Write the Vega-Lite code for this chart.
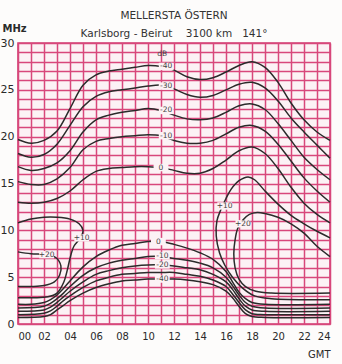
{
  "$schema": "https://vega.github.io/schema/vega-lite/v6.json",
  "autosize": {"type": "none"},
  "width": 312,
  "height": 281,
  "padding": {"left": 18, "top": 43, "right": 12, "bottom": 40},
  "background": "#fdfcfb",
  "title": {
    "text": "MELLERSTA ÖSTERN",
    "subtitle": "Karlsborg - Beirut\u00a0\u00a0\u00a0 3100 km\u00a0\u00a0 141°",
    "anchor": "middle",
    "frame": "group",
    "fontSize": 10.5,
    "fontWeight": "normal",
    "font": "DejaVu Sans",
    "color": "#333",
    "subtitleFontSize": 10.5,
    "subtitleFont": "DejaVu Sans",
    "subtitleColor": "#333",
    "subtitlePadding": 7,
    "offset": -16
  },
  "config": {
    "view": {"stroke": "#d23c72", "strokeWidth": 1.6, "fill": "#fcf2f5"},
    "axis": {"labelFont": "DejaVu Sans", "titleFont": "DejaVu Sans", "labelColor": "#2a2a2a", "titleColor": "#2a2a2a"}
  },
  "datasets": {
    "curves": [
      {"c":"u40","o":0,"h":0,"f":19.7},{"c":"u40","o":1,"h":1,"f":19.3},{"c":"u40","o":2,"h":2,"f":19.6},{"c":"u40","o":3,"h":3,"f":20.6},{"c":"u40","o":4,"h":4,"f":23.0},{"c":"u40","o":5,"h":5,"f":25.5},{"c":"u40","o":6,"h":6,"f":26.6},{"c":"u40","o":7,"h":7,"f":27.0},{"c":"u40","o":8,"h":8,"f":27.2},{"c":"u40","o":9,"h":9,"f":27.4},{"c":"u40","o":10,"h":10,"f":27.6},{"c":"u40","o":11,"h":11,"f":27.5},{"c":"u40","o":12,"h":12,"f":27.1},{"c":"u40","o":13,"h":13,"f":26.4},{"c":"u40","o":14,"h":14,"f":26.1},{"c":"u40","o":15,"h":15,"f":26.3},{"c":"u40","o":16,"h":16,"f":26.9},{"c":"u40","o":17,"h":17,"f":27.6},{"c":"u40","o":18,"h":18,"f":28.0},{"c":"u40","o":19,"h":19,"f":27.4},{"c":"u40","o":20,"h":20,"f":25.8},{"c":"u40","o":21,"h":21,"f":23.6},{"c":"u40","o":22,"h":22,"f":21.8},{"c":"u40","o":23,"h":23,"f":20.5},{"c":"u40","o":24,"h":24,"f":19.6},

      {"c":"u30","o":0,"h":0,"f":18.2},{"c":"u30","o":1,"h":1,"f":17.8},{"c":"u30","o":2,"h":2,"f":18.1},{"c":"u30","o":3,"h":3,"f":19.2},{"c":"u30","o":4,"h":4,"f":21.2},{"c":"u30","o":5,"h":5,"f":23.2},{"c":"u30","o":6,"h":6,"f":24.3},{"c":"u30","o":7,"h":7,"f":24.8},{"c":"u30","o":8,"h":8,"f":25.0},{"c":"u30","o":9,"h":9,"f":25.2},{"c":"u30","o":10,"h":10,"f":25.4},{"c":"u30","o":11,"h":11,"f":25.5},{"c":"u30","o":12,"h":12,"f":25.1},{"c":"u30","o":13,"h":13,"f":24.5},{"c":"u30","o":14,"h":14,"f":24.2},{"c":"u30","o":15,"h":15,"f":24.4},{"c":"u30","o":16,"h":16,"f":25.0},{"c":"u30","o":17,"h":17,"f":25.6},{"c":"u30","o":18,"h":18,"f":25.8},{"c":"u30","o":19,"h":19,"f":25.2},{"c":"u30","o":20,"h":20,"f":23.8},{"c":"u30","o":21,"h":21,"f":22.0},{"c":"u30","o":22,"h":22,"f":20.5},{"c":"u30","o":23,"h":23,"f":19.1},{"c":"u30","o":24,"h":24,"f":17.7},

      {"c":"u20","o":0,"h":0,"f":16.8},{"c":"u20","o":1,"h":1,"f":16.4},{"c":"u20","o":2,"h":2,"f":16.6},{"c":"u20","o":3,"h":3,"f":17.2},{"c":"u20","o":4,"h":4,"f":18.5},{"c":"u20","o":5,"h":5,"f":20.5},{"c":"u20","o":6,"h":6,"f":21.8},{"c":"u20","o":7,"h":7,"f":22.3},{"c":"u20","o":8,"h":8,"f":22.6},{"c":"u20","o":9,"h":9,"f":22.8},{"c":"u20","o":10,"h":10,"f":23.0},{"c":"u20","o":11,"h":11,"f":22.8},{"c":"u20","o":12,"h":12,"f":22.3},{"c":"u20","o":13,"h":13,"f":21.9},{"c":"u20","o":14,"h":14,"f":21.8},{"c":"u20","o":15,"h":15,"f":22.0},{"c":"u20","o":16,"h":16,"f":22.6},{"c":"u20","o":17,"h":17,"f":23.3},{"c":"u20","o":18,"h":18,"f":23.5},{"c":"u20","o":19,"h":19,"f":22.9},{"c":"u20","o":20,"h":20,"f":21.4},{"c":"u20","o":21,"h":21,"f":19.6},{"c":"u20","o":22,"h":22,"f":17.8},{"c":"u20","o":23,"h":23,"f":16.5},{"c":"u20","o":24,"h":24,"f":15.4},

      {"c":"u10","o":0,"h":0,"f":15.2},{"c":"u10","o":1,"h":1,"f":14.9},{"c":"u10","o":2,"h":2,"f":14.9},{"c":"u10","o":3,"h":3,"f":15.5},{"c":"u10","o":4,"h":4,"f":16.7},{"c":"u10","o":5,"h":5,"f":18.6},{"c":"u10","o":6,"h":6,"f":19.5},{"c":"u10","o":7,"h":7,"f":19.8},{"c":"u10","o":8,"h":8,"f":20.0},{"c":"u10","o":9,"h":9,"f":20.1},{"c":"u10","o":10,"h":10,"f":20.2},{"c":"u10","o":11,"h":11,"f":20.1},{"c":"u10","o":12,"h":12,"f":19.6},{"c":"u10","o":13,"h":13,"f":19.3},{"c":"u10","o":14,"h":14,"f":19.3},{"c":"u10","o":15,"h":15,"f":19.6},{"c":"u10","o":16,"h":16,"f":20.3},{"c":"u10","o":17,"h":17,"f":21.0},{"c":"u10","o":18,"h":18,"f":21.2},{"c":"u10","o":19,"h":19,"f":20.6},{"c":"u10","o":20,"h":20,"f":19.2},{"c":"u10","o":21,"h":21,"f":17.4},{"c":"u10","o":22,"h":22,"f":15.6},{"c":"u10","o":23,"h":23,"f":14.2},{"c":"u10","o":24,"h":24,"f":13.0},

      {"c":"u0","o":0,"h":0,"f":13.0},{"c":"u0","o":1,"h":1,"f":12.9},{"c":"u0","o":2,"h":2,"f":13.0},{"c":"u0","o":3,"h":3,"f":13.4},{"c":"u0","o":4,"h":4,"f":14.2},{"c":"u0","o":5,"h":5,"f":15.4},{"c":"u0","o":6,"h":6,"f":16.3},{"c":"u0","o":7,"h":7,"f":16.6},{"c":"u0","o":8,"h":8,"f":16.7},{"c":"u0","o":9,"h":9,"f":16.8},{"c":"u0","o":10,"h":10,"f":16.8},{"c":"u0","o":11,"h":11,"f":16.7},{"c":"u0","o":12,"h":12,"f":16.4},{"c":"u0","o":13,"h":13,"f":16.1},{"c":"u0","o":14,"h":14,"f":16.1},{"c":"u0","o":15,"h":15,"f":16.6},{"c":"u0","o":16,"h":16,"f":17.5},{"c":"u0","o":17,"h":17,"f":18.5},{"c":"u0","o":18,"h":18,"f":18.9},{"c":"u0","o":19,"h":19,"f":18.2},{"c":"u0","o":20,"h":20,"f":16.6},{"c":"u0","o":21,"h":21,"f":14.6},{"c":"u0","o":22,"h":22,"f":12.9},{"c":"u0","o":23,"h":23,"f":11.7},{"c":"u0","o":24,"h":24,"f":10.8},

      {"c":"p10e","o":0,"h":24,"f":9.2},{"c":"p10e","o":1,"h":23,"f":9.9},{"c":"p10e","o":2,"h":22,"f":10.7},{"c":"p10e","o":3,"h":21,"f":11.6},{"c":"p10e","o":4,"h":20,"f":12.8},{"c":"p10e","o":5,"h":19,"f":14.2},{"c":"p10e","o":6,"h":18.2,"f":15.4},{"c":"p10e","o":7,"h":17.7,"f":15.7},{"c":"p10e","o":8,"h":17.0,"f":15.3},{"c":"p10e","o":9,"h":16.4,"f":14.4},{"c":"p10e","o":10,"h":16.0,"f":13.4},{"c":"p10e","o":11,"h":15.6,"f":12.2},{"c":"p10e","o":12,"h":15.3,"f":11.0},{"c":"p10e","o":13,"h":15.25,"f":9.4},{"c":"p10e","o":14,"h":15.5,"f":7.6},{"c":"p10e","o":15,"h":15.9,"f":6.3},{"c":"p10e","o":16,"h":16.5,"f":5.0},{"c":"p10e","o":17,"h":17.3,"f":3.8},{"c":"p10e","o":18,"h":18.2,"f":3.0},{"c":"p10e","o":19,"h":19.5,"f":2.7},{"c":"p10e","o":20,"h":24,"f":2.6},

      {"c":"p20e","o":0,"h":24,"f":7.2},{"c":"p20e","o":1,"h":23,"f":8.3},{"c":"p20e","o":2,"h":22,"f":9.7},{"c":"p20e","o":3,"h":21,"f":10.7},{"c":"p20e","o":4,"h":20,"f":11.4},{"c":"p20e","o":5,"h":19,"f":11.8},{"c":"p20e","o":6,"h":18.4,"f":11.9},{"c":"p20e","o":7,"h":17.8,"f":11.7},{"c":"p20e","o":8,"h":17.3,"f":11.1},{"c":"p20e","o":9,"h":16.9,"f":10.2},{"c":"p20e","o":10,"h":16.7,"f":9.0},{"c":"p20e","o":11,"h":16.6,"f":7.5},{"c":"p20e","o":12,"h":16.7,"f":6.0},{"c":"p20e","o":13,"h":17.0,"f":4.8},{"c":"p20e","o":14,"h":17.5,"f":4.0},{"c":"p20e","o":15,"h":18.3,"f":3.5},{"c":"p20e","o":16,"h":19.5,"f":3.3},{"c":"p20e","o":17,"h":24,"f":3.3},

      {"c":"p10n","o":0,"h":0,"f":10.8},{"c":"p10n","o":1,"h":1,"f":11.2},{"c":"p10n","o":2,"h":2,"f":11.4},{"c":"p10n","o":3,"h":3,"f":11.4},{"c":"p10n","o":4,"h":4,"f":11.2},{"c":"p10n","o":5,"h":4.7,"f":10.7},{"c":"p10n","o":6,"h":5.0,"f":10.0},{"c":"p10n","o":7,"h":4.8,"f":9.2},{"c":"p10n","o":8,"h":4.3,"f":8.3},{"c":"p10n","o":9,"h":4.0,"f":7.0},{"c":"p10n","o":10,"h":3.8,"f":5.8},{"c":"p10n","o":11,"h":3.5,"f":4.4},{"c":"p10n","o":12,"h":3.0,"f":3.3},{"c":"p10n","o":13,"h":2.3,"f":2.9},{"c":"p10n","o":14,"h":1.2,"f":2.8},{"c":"p10n","o":15,"h":0,"f":2.8},

      {"c":"p20n","o":0,"h":0,"f":7.7},{"c":"p20n","o":1,"h":1,"f":7.5},{"c":"p20n","o":2,"h":2.2,"f":7.4},{"c":"p20n","o":3,"h":2.9,"f":7.1},{"c":"p20n","o":4,"h":3.3,"f":6.2},{"c":"p20n","o":5,"h":3.2,"f":5.2},{"c":"p20n","o":6,"h":2.8,"f":4.5},{"c":"p20n","o":7,"h":2.0,"f":4.1},{"c":"p20n","o":8,"h":1.0,"f":4.0},{"c":"p20n","o":9,"h":0,"f":4.0},

      {"c":"l0","o":0,"h":0,"f":2.1},{"c":"l0","o":1,"h":1,"f":2.1},{"c":"l0","o":2,"h":2,"f":2.3},{"c":"l0","o":3,"h":2.5,"f":2.6},{"c":"l0","o":4,"h":3,"f":3.1},{"c":"l0","o":5,"h":3.5,"f":3.8},{"c":"l0","o":6,"h":4,"f":4.6},{"c":"l0","o":7,"h":5,"f":6.1},{"c":"l0","o":8,"h":6,"f":7.2},{"c":"l0","o":9,"h":7,"f":7.9},{"c":"l0","o":10,"h":8,"f":8.4},{"c":"l0","o":11,"h":9,"f":8.6},{"c":"l0","o":12,"h":10,"f":8.8},{"c":"l0","o":13,"h":11,"f":8.8},{"c":"l0","o":14,"h":12,"f":8.5},{"c":"l0","o":15,"h":13,"f":8.1},{"c":"l0","o":16,"h":14,"f":7.6},{"c":"l0","o":17,"h":15,"f":6.9},{"c":"l0","o":18,"h":16,"f":5.6},{"c":"l0","o":19,"h":16.5,"f":4.5},{"c":"l0","o":20,"h":17,"f":3.4},{"c":"l0","o":21,"h":17.5,"f":2.7},{"c":"l0","o":22,"h":18,"f":2.3},{"c":"l0","o":23,"h":19,"f":2.1},{"c":"l0","o":24,"h":24,"f":2.1},

      {"c":"l10","o":0,"h":0,"f":1.7},{"c":"l10","o":1,"h":2,"f":1.9},{"c":"l10","o":2,"h":2.5,"f":2.2},{"c":"l10","o":3,"h":3,"f":2.7},{"c":"l10","o":4,"h":3.5,"f":3.3},{"c":"l10","o":5,"h":4,"f":4.0},{"c":"l10","o":6,"h":5,"f":5.2},{"c":"l10","o":7,"h":6,"f":6.0},{"c":"l10","o":8,"h":7,"f":6.5},{"c":"l10","o":9,"h":8,"f":6.8},{"c":"l10","o":10,"h":9,"f":7.0},{"c":"l10","o":11,"h":10,"f":7.2},{"c":"l10","o":12,"h":11,"f":7.2},{"c":"l10","o":13,"h":12,"f":7.0},{"c":"l10","o":14,"h":13,"f":6.8},{"c":"l10","o":15,"h":14,"f":6.5},{"c":"l10","o":16,"h":15,"f":6.0},{"c":"l10","o":17,"h":16,"f":5.0},{"c":"l10","o":18,"h":16.5,"f":4.1},{"c":"l10","o":19,"h":17,"f":3.1},{"c":"l10","o":20,"h":17.5,"f":2.3},{"c":"l10","o":21,"h":18,"f":1.9},{"c":"l10","o":22,"h":19,"f":1.7},{"c":"l10","o":23,"h":24,"f":1.7},

      {"c":"l20","o":0,"h":0,"f":1.35},{"c":"l20","o":1,"h":2,"f":1.5},{"c":"l20","o":2,"h":2.5,"f":1.8},{"c":"l20","o":3,"h":3,"f":2.3},{"c":"l20","o":4,"h":3.5,"f":2.9},{"c":"l20","o":5,"h":4,"f":3.5},{"c":"l20","o":6,"h":5,"f":4.5},{"c":"l20","o":7,"h":6,"f":5.3},{"c":"l20","o":8,"h":7,"f":5.7},{"c":"l20","o":9,"h":8,"f":6.0},{"c":"l20","o":10,"h":9,"f":6.2},{"c":"l20","o":11,"h":10,"f":6.3},{"c":"l20","o":12,"h":11,"f":6.3},{"c":"l20","o":13,"h":12,"f":6.2},{"c":"l20","o":14,"h":13,"f":6.0},{"c":"l20","o":15,"h":14,"f":5.8},{"c":"l20","o":16,"h":15,"f":5.3},{"c":"l20","o":17,"h":16,"f":4.5},{"c":"l20","o":18,"h":16.5,"f":3.7},{"c":"l20","o":19,"h":17,"f":2.7},{"c":"l20","o":20,"h":17.5,"f":1.9},{"c":"l20","o":21,"h":18,"f":1.5},{"c":"l20","o":22,"h":19,"f":1.35},{"c":"l20","o":23,"h":24,"f":1.35},

      {"c":"l30","o":0,"h":0,"f":1.0},{"c":"l30","o":1,"h":2,"f":1.15},{"c":"l30","o":2,"h":2.5,"f":1.4},{"c":"l30","o":3,"h":3,"f":1.9},{"c":"l30","o":4,"h":3.5,"f":2.5},{"c":"l30","o":5,"h":4,"f":3.0},{"c":"l30","o":6,"h":5,"f":3.9},{"c":"l30","o":7,"h":6,"f":4.6},{"c":"l30","o":8,"h":7,"f":5.0},{"c":"l30","o":9,"h":8,"f":5.3},{"c":"l30","o":10,"h":9,"f":5.4},{"c":"l30","o":11,"h":10,"f":5.5},{"c":"l30","o":12,"h":11,"f":5.5},{"c":"l30","o":13,"h":12,"f":5.5},{"c":"l30","o":14,"h":13,"f":5.3},{"c":"l30","o":15,"h":14,"f":5.1},{"c":"l30","o":16,"h":15,"f":4.7},{"c":"l30","o":17,"h":16,"f":4.0},{"c":"l30","o":18,"h":16.5,"f":3.2},{"c":"l30","o":19,"h":17,"f":2.3},{"c":"l30","o":20,"h":17.5,"f":1.5},{"c":"l30","o":21,"h":18,"f":1.1},{"c":"l30","o":22,"h":19,"f":1.0},{"c":"l30","o":23,"h":24,"f":1.0},

      {"c":"l40","o":0,"h":0,"f":0.7},{"c":"l40","o":1,"h":2,"f":0.8},{"c":"l40","o":2,"h":2.5,"f":1.0},{"c":"l40","o":3,"h":3,"f":1.5},{"c":"l40","o":4,"h":3.5,"f":2.0},{"c":"l40","o":5,"h":4,"f":2.5},{"c":"l40","o":6,"h":5,"f":3.3},{"c":"l40","o":7,"h":6,"f":3.9},{"c":"l40","o":8,"h":7,"f":4.3},{"c":"l40","o":9,"h":8,"f":4.6},{"c":"l40","o":10,"h":9,"f":4.7},{"c":"l40","o":11,"h":10,"f":4.8},{"c":"l40","o":12,"h":11,"f":4.8},{"c":"l40","o":13,"h":12,"f":4.8},{"c":"l40","o":14,"h":13,"f":4.7},{"c":"l40","o":15,"h":14,"f":4.5},{"c":"l40","o":16,"h":15,"f":4.2},{"c":"l40","o":17,"h":16,"f":3.5},{"c":"l40","o":18,"h":16.5,"f":2.8},{"c":"l40","o":19,"h":17,"f":1.9},{"c":"l40","o":20,"h":17.5,"f":1.1},{"c":"l40","o":21,"h":18,"f":0.8},{"c":"l40","o":22,"h":19,"f":0.7},{"c":"l40","o":23,"h":24,"f":0.7}
    ],
    "labels": [
      {"t":"dB","h":11.1,"f":28.8,"bg":false},
      {"t":"-40","h":11.4,"f":27.5,"bg":true},
      {"t":"-30","h":11.4,"f":25.4,"bg":true},
      {"t":"-20","h":11.4,"f":22.8,"bg":true},
      {"t":"-10","h":11.4,"f":20.1,"bg":true},
      {"t":"0","h":11.0,"f":16.7,"bg":true},
      {"t":"0","h":10.8,"f":8.8,"bg":true},
      {"t":"-10","h":11.1,"f":7.3,"bg":true},
      {"t":"-20","h":11.1,"f":6.3,"bg":true},
      {"t":"-40","h":11.1,"f":4.8,"bg":true},
      {"t":"+10","h":15.9,"f":12.6,"bg":true},
      {"t":"+20","h":17.3,"f":10.7,"bg":true},
      {"t":"+10","h":4.9,"f":9.2,"bg":true},
      {"t":"+20","h":2.2,"f":7.4,"bg":true}
    ]
  },
  "layer": [
    {
      "data": {"name": "curves"},
      "mark": {"type": "line", "interpolate": "catmull-rom", "color": "#2b2b2b", "strokeWidth": 1.5},
      "encoding": {
        "x": {
          "field": "h", "type": "quantitative",
          "scale": {"domain": [0, 24], "nice": false, "zero": false},
          "axis": {
            "tickCount": 24,
            "labelOverlap": false,
            "labelExpr": "datum.value % 2 === 0 ? (datum.value < 10 ? '0' + datum.value : '' + datum.value) : ''",
            "grid": true, "gridColor": "#d8477b", "gridWidth": 1.5, "gridOpacity": 1,
            "ticks": false, "domain": false,
            "labelFontSize": 10, "labelPadding": 7, "labelDx": -2,
            "title": "GMT", "titleFontSize": 10, "titleFontWeight": "normal",
            "titleX": 312, "titleY": 30, "titleAlign": "right", "titleBaseline": "middle"
          }
        },
        "y": {
          "field": "f", "type": "quantitative",
          "scale": {"domain": [0, 30], "nice": false},
          "axis": {
            "tickCount": 30,
            "labelOverlap": false,
            "labelExpr": "datum.value % 5 === 0 ? '' + datum.value : ''",
            "grid": true, "gridColor": "#d8477b", "gridWidth": 1.5, "gridOpacity": 1,
            "ticks": false, "domain": false,
            "labelFontSize": 11, "labelPadding": 4,
            "title": "MHz", "titleAngle": 0, "titleFontSize": 10, "titleFontWeight": "bold",
            "titleX": -16, "titleY": -15, "titleAlign": "left", "titleBaseline": "middle"
          }
        },
        "detail": {"field": "c"},
        "order": {"field": "o", "type": "quantitative"}
      }
    },
    {
      "data": {"name": "labels"},
      "transform": [{"filter": "datum.bg"}],
      "mark": {"type": "point", "shape": "M-1,-0.5H1V0.5H-1Z", "size": 220, "filled": true, "color": "#fcf2f5", "opacity": 1, "strokeWidth": 0},
      "encoding": {
        "x": {"field": "h", "type": "quantitative"},
        "y": {"field": "f", "type": "quantitative"}
      }
    },
    {
      "data": {"name": "labels"},
      "mark": {"type": "text", "font": "DejaVu Sans", "fontSize": 7.5, "color": "#444", "baseline": "middle", "align": "center"},
      "encoding": {
        "x": {"field": "h", "type": "quantitative"},
        "y": {"field": "f", "type": "quantitative"},
        "text": {"field": "t"}
      }
    }
  ]
}
